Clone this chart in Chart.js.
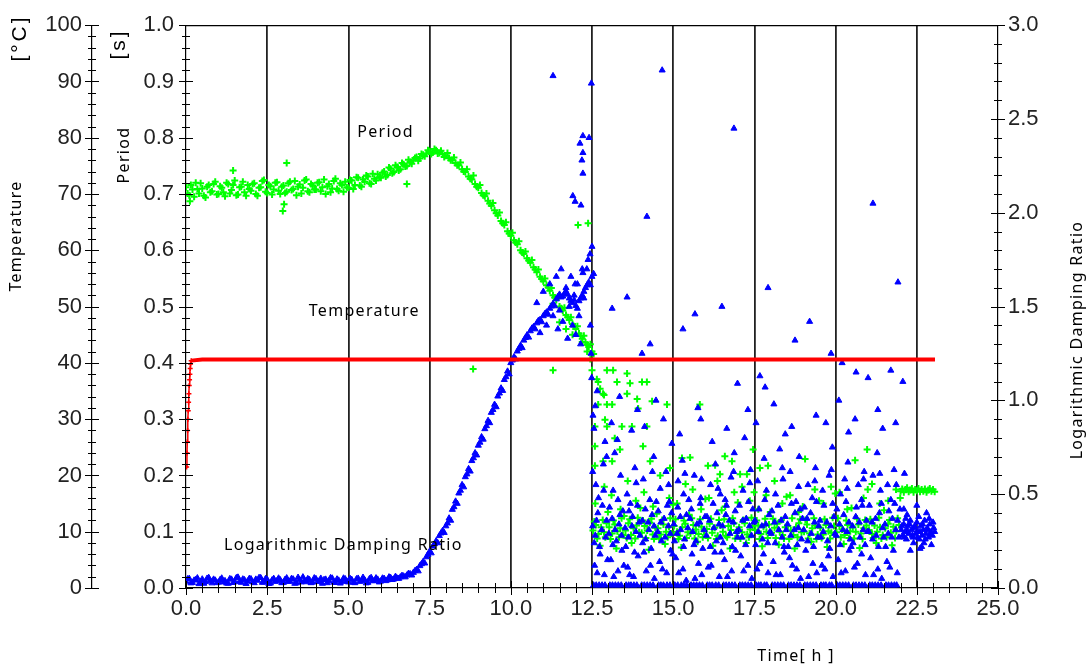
<!DOCTYPE html>
<html>
<head>
<meta charset="utf-8">
<script src="https://cdn.jsdelivr.net/npm/chart.js@4.4.1/dist/chart.umd.min.js"></script>
<style>
    html, body { margin: 0; padding: 0; background: #fff; }
    canvas { display: block; }
</style>
</head>
<body>
<canvas id="chart" width="1089" height="666"></canvas>
<script>
// ===============================
// DATA
// ===============================

// Temperature [°C] vs time [h]
const tempTime = [0.02, 0.03, 0.04, 0.05, 0.06, 0.07, 0.08, 0.09, 0.10, 0.11, 0.12, 0.13, 0.14, 0.16,
    0.5, 1, 2, 3, 4, 5, 6, 7, 8, 9, 10, 11, 12, 13, 14, 15, 16, 17, 18, 19, 20, 21, 22, 23, 23.06];
const tempValue = [21.5, 24, 26, 28, 30, 31.5, 33, 34.5, 36, 37, 38, 39, 39.8, 40.4,
    40.6, 40.6, 40.6, 40.6, 40.6, 40.6, 40.6, 40.6, 40.6, 40.6, 40.6, 40.6, 40.6, 40.6, 40.6,
    40.6, 40.6, 40.6, 40.6, 40.6, 40.6, 40.6, 40.6, 40.6, 40.6];

// Smooth part of the run (0 - 12.5 h), two readings per time step
const bandTime = [
    0.0, 0.1, 0.2, 0.3, 0.4, 0.5, 0.6, 0.7, 0.8, 0.9,
    1.0, 1.1, 1.2, 1.3, 1.4, 1.5, 1.6, 1.7, 1.8, 1.9,
    2.0, 2.1, 2.2, 2.3, 2.4, 2.5, 2.6, 2.7, 2.8, 2.9,
    3.0, 3.1, 3.2, 3.3, 3.4, 3.5, 3.6, 3.7, 3.8, 3.9,
    4.0, 4.1, 4.2, 4.3, 4.4, 4.5, 4.6, 4.7, 4.8, 4.9,
    5.0, 5.1, 5.2, 5.3, 5.4, 5.5, 5.6, 5.7, 5.8, 5.9,
    6.0, 6.1, 6.2, 6.3, 6.4, 6.5, 6.6, 6.7, 6.8, 6.9,
    7.0, 7.1, 7.2, 7.3, 7.4, 7.5, 7.6, 7.7, 7.8, 7.9,
    8.0, 8.1, 8.2, 8.3, 8.4, 8.5, 8.6, 8.7, 8.8, 8.9,
    9.0, 9.1, 9.2, 9.3, 9.4, 9.5, 9.6, 9.7, 9.8, 9.9,
    10.0, 10.1, 10.2, 10.3, 10.4, 10.5, 10.6, 10.7, 10.8, 10.9,
    11.0, 11.1, 11.2, 11.3, 11.4, 11.5, 11.6, 11.7, 11.8, 11.9,
    12.0, 12.1, 12.2, 12.3, 12.4, 12.5
];

// Period [s]
const periodBand = [
    0.712, 0.698, 0.708, 0.720, 0.701, 0.710, 0.694, 0.716, 0.705, 0.722,
    0.700, 0.711, 0.696, 0.718, 0.707, 0.724, 0.699, 0.713, 0.703, 0.716,
    0.706, 0.719, 0.697, 0.712, 0.725, 0.702, 0.714, 0.708, 0.721, 0.700,
    0.715, 0.704, 0.722, 0.709, 0.698, 0.717, 0.711, 0.726, 0.703, 0.715,
    0.708, 0.721, 0.712, 0.700, 0.718, 0.710, 0.727, 0.706, 0.716, 0.722,
    0.711, 0.724, 0.716, 0.729, 0.713, 0.722, 0.731, 0.718, 0.727, 0.735,
    0.729, 0.740, 0.734, 0.745, 0.739, 0.748, 0.744, 0.753, 0.750, 0.757,
    0.760, 0.766, 0.763, 0.770, 0.772, 0.776, 0.774, 0.778, 0.773, 0.771,
    0.768, 0.764, 0.760, 0.755, 0.751, 0.744, 0.739, 0.731, 0.726, 0.718,
    0.711, 0.702, 0.696, 0.688, 0.679, 0.671, 0.662, 0.652, 0.645, 0.634,
    0.626, 0.618, 0.611, 0.600, 0.594, 0.586, 0.578, 0.570, 0.561, 0.553,
    0.545, 0.538, 0.528, 0.520, 0.512, 0.500, 0.493, 0.485, 0.476, 0.469,
    0.460, 0.452, 0.443, 0.436, 0.428, 0.420
];
const periodBand2 = [
    0.701, 0.716, 0.695, 0.709, 0.719, 0.697, 0.713, 0.703, 0.718, 0.699,
    0.714, 0.703, 0.720, 0.701, 0.716, 0.698, 0.712, 0.722, 0.697, 0.709,
    0.718, 0.700, 0.711, 0.723, 0.704, 0.716, 0.699, 0.720, 0.706, 0.713,
    0.702, 0.719, 0.707, 0.723, 0.713, 0.701, 0.724, 0.705, 0.718, 0.708,
    0.720, 0.705, 0.726, 0.714, 0.703, 0.723, 0.709, 0.719, 0.704, 0.712,
    0.725, 0.709, 0.730, 0.715, 0.726, 0.733, 0.719, 0.736, 0.724, 0.730,
    0.738, 0.731, 0.747, 0.737, 0.751, 0.742, 0.755, 0.749, 0.761, 0.754,
    0.764, 0.759, 0.771, 0.767, 0.778, 0.771, 0.780, 0.772, 0.777, 0.766,
    0.773, 0.760, 0.765, 0.751, 0.756, 0.740, 0.744, 0.727, 0.733, 0.713,
    0.716, 0.698, 0.701, 0.683, 0.684, 0.666, 0.667, 0.648, 0.650, 0.630,
    0.631, 0.614, 0.616, 0.596, 0.598, 0.582, 0.583, 0.566, 0.566, 0.549,
    0.550, 0.534, 0.533, 0.516, 0.517, 0.497, 0.498, 0.481, 0.481, 0.465,
    0.465, 0.448, 0.448, 0.432, 0.433, 0.416
];

// Logarithmic damping ratio
const ldrBand = [
    0.035, 0.050, 0.028, 0.044, 0.022, 0.047, 0.033, 0.055, 0.026, 0.041,
    0.030, 0.052, 0.038, 0.024, 0.046, 0.034, 0.057, 0.029, 0.043, 0.036,
    0.048, 0.027, 0.040, 0.054, 0.031, 0.045, 0.025, 0.050, 0.037, 0.043,
    0.029, 0.053, 0.035, 0.047, 0.026, 0.042, 0.058, 0.032, 0.044, 0.030,
    0.049, 0.036, 0.024, 0.046, 0.038, 0.052, 0.028, 0.041, 0.034, 0.048,
    0.031, 0.045, 0.027, 0.051, 0.037, 0.043, 0.029, 0.055, 0.039, 0.046,
    0.036, 0.050, 0.042, 0.055, 0.047, 0.052, 0.058, 0.063, 0.068, 0.075,
    0.082, 0.098, 0.118, 0.140, 0.165, 0.195, 0.222, 0.250, 0.278, 0.305,
    0.330, 0.372, 0.418, 0.462, 0.505, 0.550, 0.592, 0.635, 0.678, 0.720,
    0.760, 0.805, 0.848, 0.892, 0.935, 0.978, 1.022, 1.065, 1.110, 1.155,
    1.200, 1.232, 1.262, 1.292, 1.320, 1.348, 1.370, 1.392, 1.412, 1.430,
    1.450, 1.470, 1.490, 1.515, 1.540, 1.565, 1.555, 1.580, 1.545, 1.520,
    1.505, 1.530, 1.560, 1.600, 1.630, 1.660
];
const ldrBand2 = [
    0.048, 0.026, 0.041, 0.053, 0.033, 0.024, 0.051, 0.038, 0.046, 0.027,
    0.044, 0.031, 0.025, 0.049, 0.028, 0.054, 0.035, 0.047, 0.023, 0.050,
    0.032, 0.046, 0.055, 0.029, 0.049, 0.023, 0.042, 0.034, 0.052, 0.027,
    0.045, 0.034, 0.050, 0.024, 0.056, 0.031, 0.040, 0.049, 0.027, 0.053,
    0.033, 0.051, 0.044, 0.027, 0.054, 0.030, 0.047, 0.025, 0.052, 0.036,
    0.050, 0.029, 0.048, 0.034, 0.056, 0.026, 0.049, 0.037, 0.053, 0.031,
    0.052, 0.038, 0.058, 0.044, 0.061, 0.050, 0.066, 0.058, 0.077, 0.068,
    0.092, 0.090, 0.128, 0.132, 0.178, 0.186, 0.235, 0.240, 0.292, 0.295,
    0.345, 0.360, 0.432, 0.450, 0.520, 0.538, 0.607, 0.622, 0.693, 0.708,
    0.776, 0.792, 0.864, 0.880, 0.950, 0.965, 1.038, 1.052, 1.125, 1.140,
    1.214, 1.220, 1.276, 1.280, 1.334, 1.336, 1.384, 1.380, 1.425, 1.418,
    1.462, 1.458, 1.502, 1.503, 1.552, 1.550, 1.570, 1.565, 1.532, 1.535,
    1.490, 1.545, 1.545, 1.615, 1.615, 1.675
];

// Scattered period readings [time, period]
const periodScatter = [
    [0.12, 0.687], [1.45, 0.742], [2.98, 0.670], [3.02, 0.682], [3.1, 0.755], [6.8, 0.718],
    [8.84, 0.389], [11.3, 0.387], [12.07, 0.645], [12.38, 0.648],
    [11.3, 0.505], [11.5, 0.472], [11.7, 0.46], [11.9, 0.45], [12.2, 0.437], [12.35, 0.42],
    [12.45, 0.407], [12.5, 0.387], [12.65, 0.371], [12.75, 0.354], [12.87, 0.343],
    [12.96, 0.387], [13.15, 0.387], [13.58, 0.381], [12.69, 0.366], [13.27, 0.366], [13.67, 0.364],
    [14.04, 0.366], [14.19, 0.366], [12.84, 0.345], [13.58, 0.345], [13.89, 0.336], [14.35, 0.332],
    [14.81, 0.326], [12.69, 0.326], [12.96, 0.326], [13.12, 0.326], [13.92, 0.319], [12.59, 0.287],
    [12.96, 0.287], [13.42, 0.287], [13.73, 0.287], [14.19, 0.287], [12.9, 0.299], [12.59, 0.252],
    [13.2, 0.266], [13.36, 0.246], [14.07, 0.252], [14.29, 0.225], [12.84, 0.225], [13.12, 0.225],
    [12.59, 0.217], [14.9, 0.213], [15.27, 0.231], [15.52, 0.232], [15.82, 0.326], [16.07, 0.217],
    [16.29, 0.218], [16.59, 0.234], [16.81, 0.225], [16.44, 0.202], [17.46, 0.246], [17.92, 0.217],
    [17.67, 0.213], [17.27, 0.202], [17.06, 0.202],
    [12.53, 0.102], [12.62, 0.112], [12.7, 0.096], [12.78, 0.108], [12.87, 0.099], [12.95, 0.115], [12.6, 0.15], [12.88, 0.18], [12.75, 0.075],
    [13.03, 0.108], [13.12, 0.097], [13.2, 0.113], [13.28, 0.101], [13.37, 0.106], [13.45, 0.094], [13.1, 0.165], [13.38, 0.14], [13.25, 0.07],
    [13.53, 0.102], [13.62, 0.115], [13.7, 0.094], [13.78, 0.106], [13.87, 0.111], [13.95, 0.099], [13.6, 0.19], [13.85, 0.155], [13.72, 0.08],
    [14.03, 0.098], [14.12, 0.11], [14.2, 0.102], [14.28, 0.116], [14.37, 0.095], [14.45, 0.107], [14.1, 0.17], [14.38, 0.145], [14.25, 0.068],
    [14.53, 0.106], [14.62, 0.095], [14.7, 0.113], [14.78, 0.1], [14.87, 0.109], [14.95, 0.097], [14.6, 0.2], [14.88, 0.16], [14.75, 0.078],
    [15.03, 0.11], [15.12, 0.1], [15.2, 0.093], [15.28, 0.108], [15.37, 0.114], [15.45, 0.099], [15.12, 0.15], [15.38, 0.185], [15.25, 0.072],
    [15.53, 0.097], [15.62, 0.112], [15.7, 0.104], [15.78, 0.096], [15.87, 0.109], [15.95, 0.101], [15.6, 0.175], [15.86, 0.14], [15.75, 0.082],
    [16.03, 0.105], [16.12, 0.114], [16.2, 0.098], [16.28, 0.107], [16.37, 0.093], [16.45, 0.111], [16.1, 0.16], [16.36, 0.19], [16.22, 0.075],
    [16.53, 0.1], [16.62, 0.093], [16.7, 0.11], [16.78, 0.103], [16.87, 0.115], [16.95, 0.098], [16.6, 0.145], [16.88, 0.17], [16.75, 0.07],
    [17.03, 0.108], [17.12, 0.099], [17.2, 0.115], [17.28, 0.095], [17.37, 0.104], [17.45, 0.11], [17.12, 0.18], [17.36, 0.155], [17.25, 0.08],
    [17.53, 0.103], [17.62, 0.111], [17.7, 0.096], [17.78, 0.109], [17.87, 0.1], [17.95, 0.113], [17.62, 0.14], [17.86, 0.165], [17.74, 0.074],
    [18.03, 0.098], [18.12, 0.107], [18.2, 0.114], [18.28, 0.1], [18.37, 0.094], [18.45, 0.108], [18.12, 0.19], [18.36, 0.15], [18.25, 0.077],
    [18.53, 0.11], [18.62, 0.102], [18.7, 0.094], [18.78, 0.108], [18.87, 0.115], [18.95, 0.099], [18.6, 0.165], [18.86, 0.135], [18.74, 0.07],
    [19.03, 0.1], [19.12, 0.113], [19.2, 0.097], [19.28, 0.106], [19.37, 0.111], [19.45, 0.095], [19.06, 0.229], [19.36, 0.175], [19.25, 0.082],
    [19.53, 0.107], [19.62, 0.095], [19.7, 0.112], [19.78, 0.101], [19.87, 0.098], [19.95, 0.11], [19.62, 0.15], [19.86, 0.18], [19.74, 0.073],
    [20.03, 0.099], [20.12, 0.11], [20.2, 0.104], [20.28, 0.094], [20.37, 0.112], [20.45, 0.101], [20.12, 0.17], [20.36, 0.14], [20.25, 0.078],
    [20.53, 0.108], [20.62, 0.1], [20.7, 0.113], [20.78, 0.097], [20.87, 0.106], [20.95, 0.111], [20.6, 0.227], [20.97, 0.246], [20.86, 0.16], [20.74, 0.071],
    [21.03, 0.103], [21.12, 0.096], [21.2, 0.111], [21.28, 0.1], [21.37, 0.108], [21.45, 0.094], [21.12, 0.185], [21.36, 0.15], [21.25, 0.08],
    [21.53, 0.106], [21.62, 0.114], [21.7, 0.098], [21.78, 0.109], [21.87, 0.101], [21.95, 0.112], [21.62, 0.155], [21.86, 0.175], [21.74, 0.076],
    [12.57, 0.118], [12.66, 0.088], [12.83, 0.121], [12.91, 0.09], [12.99, 0.135],
    [13.07, 0.087], [13.16, 0.12], [13.33, 0.09], [13.41, 0.124], [13.49, 0.128],
    [13.57, 0.089], [13.66, 0.122], [13.83, 0.088], [13.91, 0.125], [13.99, 0.142],
    [14.07, 0.12], [14.16, 0.089], [14.33, 0.123], [14.41, 0.087], [14.49, 0.132],
    [14.57, 0.088], [14.66, 0.121], [14.83, 0.09], [14.91, 0.124], [14.99, 0.148],
    [15.07, 0.122], [15.16, 0.087], [15.33, 0.12], [15.41, 0.089], [15.49, 0.13],
    [15.57, 0.124], [15.66, 0.088], [15.83, 0.122], [15.91, 0.09], [15.99, 0.158],
    [16.07, 0.089], [16.16, 0.123], [16.33, 0.087], [16.41, 0.121], [16.49, 0.138],
    [16.57, 0.122], [16.66, 0.09], [16.83, 0.124], [16.91, 0.088], [16.99, 0.152],
    [17.07, 0.088], [17.16, 0.121], [17.33, 0.09], [17.41, 0.125], [17.49, 0.17],
    [17.57, 0.12], [17.66, 0.087], [17.83, 0.123], [17.91, 0.089], [17.99, 0.135],
    [18.07, 0.123], [18.16, 0.089], [18.33, 0.121], [18.41, 0.088], [18.49, 0.162],
    [18.57, 0.087], [18.66, 0.124], [18.83, 0.09], [18.91, 0.122], [18.99, 0.145],
    [19.07, 0.121], [19.16, 0.088], [19.33, 0.124], [19.41, 0.087], [19.49, 0.155],
    [19.57, 0.089], [19.66, 0.122], [19.83, 0.088], [19.91, 0.125], [19.99, 0.168],
    [20.07, 0.124], [20.16, 0.09], [20.33, 0.12], [20.41, 0.089], [20.49, 0.142],
    [20.57, 0.088], [20.66, 0.123], [20.83, 0.087], [20.91, 0.121], [20.99, 0.175],
    [21.07, 0.122], [21.16, 0.089], [21.33, 0.125], [21.41, 0.088], [21.49, 0.138],
    [21.57, 0.09], [21.66, 0.121], [21.83, 0.089], [21.91, 0.124], [21.99, 0.16],
    [22.0, 0.172], [22.05, 0.176], [22.1, 0.17], [22.15, 0.175], [22.2, 0.178], [22.25, 0.171], [22.3, 0.174], [22.35, 0.177],
    [22.4, 0.17], [22.45, 0.175], [22.5, 0.173], [22.55, 0.177], [22.6, 0.171], [22.65, 0.175], [22.7, 0.172], [22.75, 0.176],
    [22.8, 0.17], [22.85, 0.174], [22.9, 0.177], [22.95, 0.172], [23.0, 0.175], [23.05, 0.171]
];

// Scattered damping ratio readings [time, ratio]
const ldrScatter = [
    [10.8, 1.52], [10.9, 1.36], [11.0, 1.58], [11.1, 1.40], [11.2, 1.62], [11.3, 1.45], [11.3, 2.73], [11.4, 1.66],
    [11.45, 1.38], [11.5, 1.48], [11.55, 1.70], [11.6, 1.42], [11.7, 1.60], [11.75, 1.33], [11.8, 1.50], [11.85, 1.66],
    [11.9, 1.40], [11.95, 1.56], [12.0, 1.35], [12.05, 1.62], [12.1, 1.45], [12.15, 1.30], [12.2, 1.70], [12.25, 1.58],
    [12.22, 2.41], [12.41, 2.40], [12.13, 2.37], [12.22, 2.32], [12.19, 2.28], [12.22, 2.21], [11.91, 2.09], [11.98, 2.06],
    [12.16, 2.04], [12.5, 1.82], [12.44, 1.78], [12.38, 1.75], [12.34, 1.70], [12.22, 1.68], [11.98, 1.62], [12.48, 2.69],
    [12.45, 1.40], [12.47, 1.25], [12.49, 1.12],
    [12.55, 0.015], [12.72, 0.015], [12.9, 0.015], [12.52, 0.33], [12.6, 0.28], [12.68, 0.4], [12.8, 0.31], [12.95, 0.36],
    [12.58, 0.12], [12.75, 0.18], [12.88, 0.07], [12.62, 0.55], [12.85, 0.66], [12.7, 0.48], [12.53, 0.92], [12.66, 1.05],
    [12.9, 0.78], [12.56, 0.85], [12.6, 0.97], [12.95, 0.7], [12.52, 0.62],
    [13.05, 0.015], [13.22, 0.015], [13.4, 0.015], [13.02, 0.29], [13.12, 0.37], [13.25, 0.25], [13.33, 0.34], [13.45, 0.41],
    [13.08, 0.15], [13.3, 0.09], [13.42, 0.2], [13.15, 0.52], [13.38, 0.6], [13.2, 0.72], [13.1, 0.88], [13.28, 0.79],
    [13.12, 1.49], [13.35, 1.02],
    [13.55, 0.015], [13.7, 0.015], [13.88, 0.015], [13.52, 0.32], [13.62, 0.27], [13.75, 0.38], [13.85, 0.3], [13.95, 0.35],
    [13.6, 0.11], [13.78, 0.06], [13.92, 0.17], [13.58, 0.5], [13.82, 0.64], [13.68, 0.45], [13.58, 1.55], [13.72, 0.84], [13.9, 0.95],
    [14.03, 0.015], [14.2, 0.015], [14.38, 0.015], [14.05, 0.36], [14.15, 0.26], [14.25, 0.31], [14.35, 0.39], [14.45, 0.28],
    [14.1, 0.19], [14.3, 0.12], [14.42, 0.05], [14.08, 0.58], [14.28, 0.47], [14.4, 0.7], [14.04, 1.25], [14.19, 1.98],
    [14.29, 1.3], [14.47, 1.0], [14.12, 0.86],
    [14.55, 0.015], [14.7, 0.015], [14.9, 0.015], [14.52, 0.3], [14.62, 0.35], [14.75, 0.27], [14.85, 0.33], [14.95, 0.4],
    [14.58, 0.14], [14.8, 0.08], [14.92, 0.2], [14.6, 0.53], [14.78, 0.62], [14.88, 0.46], [14.66, 2.76], [14.7, 0.9], [14.96, 0.77],
    [15.05, 0.015], [15.25, 0.015], [15.42, 0.015], [15.02, 0.34], [15.12, 0.29], [15.22, 0.38], [15.35, 0.26], [15.45, 0.32],
    [15.08, 0.16], [15.3, 0.1], [15.4, 0.04], [15.15, 0.57], [15.32, 0.5], [15.28, 0.68], [15.3, 1.38], [15.2, 0.82],
    [15.55, 0.015], [15.72, 0.015], [15.9, 0.015], [15.52, 0.37], [15.6, 0.3], [15.7, 0.25], [15.82, 0.35], [15.95, 0.31],
    [15.58, 0.18], [15.78, 0.13], [15.88, 0.07], [15.65, 0.6], [15.85, 0.48], [15.76, 0.96], [15.67, 1.46], [15.85, 0.9],
    [16.05, 0.015], [16.2, 0.015], [16.4, 0.015], [16.02, 0.28], [16.12, 0.36], [16.25, 0.32], [16.35, 0.4], [16.45, 0.27],
    [16.08, 0.11], [16.28, 0.19], [16.42, 0.06], [16.15, 0.55], [16.3, 0.66], [16.45, 0.5], [16.2, 0.78], [16.5, 1.5],
    [16.55, 0.015], [16.72, 0.015], [16.9, 0.015], [16.52, 0.33], [16.62, 0.39], [16.75, 0.29], [16.85, 0.35], [16.95, 0.3],
    [16.58, 0.15], [16.8, 0.09], [16.92, 0.2], [16.6, 0.47], [16.78, 0.59], [16.88, 0.72], [16.87, 2.45], [16.98, 1.09], [16.65, 0.85],
    [17.05, 0.015], [17.22, 0.015], [17.4, 0.015], [17.02, 0.31], [17.12, 0.27], [17.25, 0.37], [17.35, 0.33], [17.45, 0.42],
    [17.08, 0.17], [17.3, 0.12], [17.42, 0.05], [17.15, 0.52], [17.38, 0.63], [17.2, 0.8], [17.3, 0.95],
    [17.55, 0.015], [17.7, 0.015], [17.88, 0.015], [17.52, 0.36], [17.62, 0.3], [17.75, 0.26], [17.85, 0.34], [17.95, 0.39],
    [17.58, 0.1], [17.78, 0.18], [17.92, 0.08], [17.67, 1.13], [17.83, 1.07], [17.6, 0.57], [17.8, 0.69], [17.92, 1.6], [17.55, 0.88],
    [18.05, 0.015], [18.22, 0.015], [18.4, 0.015], [18.02, 0.29], [18.12, 0.35], [18.25, 0.31], [18.35, 0.27], [18.45, 0.38],
    [18.08, 0.14], [18.3, 0.07], [18.42, 0.19], [18.15, 0.5], [18.38, 0.58], [18.28, 0.74], [18.1, 0.98], [18.45, 0.82],
    [18.55, 0.015], [18.72, 0.015], [18.9, 0.015], [18.52, 0.34], [18.62, 0.28], [18.75, 0.4], [18.85, 0.32], [18.95, 0.26],
    [18.58, 0.16], [18.8, 0.1], [18.92, 0.05], [18.6, 0.62], [18.78, 0.46], [18.88, 0.7], [18.75, 1.32], [18.65, 0.86],
    [19.05, 0.015], [19.22, 0.015], [19.4, 0.015], [19.02, 0.31], [19.12, 0.37], [19.25, 0.29], [19.35, 0.35], [19.45, 0.27],
    [19.08, 0.2], [19.3, 0.13], [19.42, 0.08], [19.15, 0.55], [19.38, 0.64], [19.28, 0.48], [19.2, 1.42], [19.4, 0.92],
    [19.55, 0.015], [19.7, 0.015], [19.88, 0.015], [19.52, 0.36], [19.62, 0.3], [19.75, 0.25], [19.85, 0.33], [19.95, 0.38],
    [19.58, 0.12], [19.78, 0.17], [19.92, 0.06], [19.6, 0.52], [19.8, 0.6], [19.9, 0.75], [19.86, 1.25], [19.7, 0.88],
    [20.05, 0.015], [20.22, 0.015], [20.4, 0.015], [20.02, 0.28], [20.12, 0.34], [20.25, 0.39], [20.35, 0.3], [20.45, 0.26],
    [20.08, 0.15], [20.3, 0.09], [20.42, 0.2], [20.15, 0.5], [20.38, 0.67], [20.28, 0.58], [20.2, 1.2], [20.1, 1.0], [20.4, 0.83],
    [20.55, 0.015], [20.72, 0.015], [20.9, 0.015], [20.52, 0.33], [20.62, 0.38], [20.75, 0.27], [20.85, 0.31], [20.95, 0.36],
    [20.58, 0.11], [20.8, 0.18], [20.92, 0.07], [20.63, 1.15], [20.7, 0.55], [20.88, 0.62], [20.8, 0.47], [21.0, 1.12], [20.6, 0.9],
    [21.05, 0.015], [21.22, 0.015], [21.4, 0.015], [21.02, 0.3], [21.12, 0.35], [21.25, 0.28], [21.35, 0.4], [21.45, 0.32],
    [21.08, 0.16], [21.3, 0.1], [21.42, 0.05], [21.15, 0.6], [21.38, 0.52], [21.28, 0.72], [21.15, 2.05], [21.3, 0.95], [21.45, 0.85],
    [21.55, 0.015], [21.72, 0.015], [21.88, 0.015], [21.52, 0.34], [21.62, 0.29], [21.75, 0.37], [21.85, 0.31], [21.95, 0.27],
    [21.58, 0.14], [21.78, 0.2], [21.9, 0.08], [21.6, 0.55], [21.8, 0.63], [21.7, 0.47], [21.7, 1.16], [21.92, 1.63], [21.85, 0.88],
    [12.57, 0.24], [12.64, 0.36], [12.73, 0.22], [12.82, 0.44], [12.92, 0.27], [12.98, 0.15], [12.66, 0.08], [12.86, 0.52], [12.63, 0.015], [12.81, 0.015],
    [13.04, 0.43], [13.14, 0.23], [13.21, 0.31], [13.3, 0.47], [13.41, 0.28], [13.48, 0.12], [13.17, 0.06], [13.36, 0.39], [13.13, 0.015], [13.31, 0.015],
    [13.54, 0.22], [13.64, 0.41], [13.73, 0.33], [13.81, 0.19], [13.9, 0.44], [13.98, 0.28], [13.66, 0.07], [13.86, 0.56], [13.63, 0.015], [13.79, 0.015],
    [14.06, 0.24], [14.14, 0.42], [14.23, 0.35], [14.32, 0.21], [14.41, 0.33], [14.48, 0.46], [14.17, 0.09], [14.36, 0.62], [14.11, 0.015], [14.29, 0.015],
    [14.54, 0.41], [14.64, 0.25], [14.72, 0.37], [14.82, 0.44], [14.91, 0.29], [14.98, 0.18], [14.67, 0.1], [14.86, 0.55], [14.62, 0.015], [14.81, 0.015],
    [15.04, 0.25], [15.14, 0.43], [15.23, 0.31], [15.32, 0.22], [15.41, 0.39], [15.48, 0.47], [15.17, 0.08], [15.36, 0.61], [15.14, 0.015], [15.33, 0.015],
    [15.56, 0.42], [15.64, 0.23], [15.73, 0.34], [15.83, 0.45], [15.91, 0.21], [15.98, 0.38], [15.67, 0.05], [15.87, 0.58], [15.63, 0.015], [15.81, 0.015],
    [16.04, 0.38], [16.14, 0.22], [16.23, 0.45], [16.33, 0.25], [16.41, 0.34], [16.48, 0.19], [16.17, 0.12], [16.38, 0.53], [16.12, 0.015], [16.31, 0.015],
    [16.54, 0.24], [16.64, 0.44], [16.73, 0.36], [16.82, 0.22], [16.91, 0.41], [16.98, 0.27], [16.67, 0.06], [16.86, 0.62], [16.63, 0.015], [16.81, 0.015],
    [17.04, 0.44], [17.14, 0.36], [17.23, 0.23], [17.32, 0.46], [17.41, 0.28], [17.48, 0.35], [17.17, 0.09], [17.36, 0.56], [17.13, 0.015], [17.31, 0.015],
    [17.54, 0.23], [17.64, 0.42], [17.73, 0.33], [17.82, 0.47], [17.91, 0.24], [17.98, 0.3], [17.67, 0.13], [17.87, 0.52], [17.63, 0.015], [17.81, 0.015],
    [18.04, 0.41], [18.14, 0.24], [18.23, 0.44], [18.32, 0.36], [18.41, 0.22], [18.48, 0.31], [18.17, 0.07], [18.36, 0.64], [18.13, 0.015], [18.31, 0.015],
    [18.54, 0.22], [18.64, 0.45], [18.73, 0.31], [18.82, 0.23], [18.91, 0.42], [18.98, 0.37], [18.67, 0.12], [18.86, 0.54], [18.63, 0.015], [18.81, 0.015],
    [19.04, 0.43], [19.14, 0.25], [19.23, 0.4], [19.32, 0.22], [19.41, 0.46], [19.48, 0.33], [19.17, 0.06], [19.36, 0.57], [19.13, 0.015], [19.31, 0.015],
    [19.54, 0.27], [19.64, 0.44], [19.73, 0.35], [19.82, 0.21], [19.91, 0.45], [19.98, 0.29], [19.67, 0.1], [19.87, 0.63], [19.63, 0.015], [19.81, 0.015],
    [20.04, 0.42], [20.14, 0.23], [20.23, 0.31], [20.32, 0.46], [20.41, 0.35], [20.48, 0.22], [20.17, 0.08], [20.36, 0.53], [20.13, 0.015], [20.31, 0.015],
    [20.54, 0.24], [20.64, 0.43], [20.73, 0.35], [20.82, 0.44], [20.91, 0.23], [20.98, 0.3], [20.67, 0.13], [20.86, 0.58], [20.63, 0.015], [20.81, 0.015],
    [21.04, 0.44], [21.14, 0.26], [21.23, 0.37], [21.32, 0.22], [21.41, 0.45], [21.48, 0.27], [21.17, 0.07], [21.36, 0.61], [21.13, 0.015], [21.31, 0.015],
    [21.54, 0.22], [21.64, 0.41], [21.73, 0.27], [21.82, 0.45], [21.91, 0.36], [21.98, 0.42], [21.67, 0.11], [21.87, 0.55], [21.63, 0.015], [21.81, 0.015],
    [22.02, 0.31], [22.06, 0.28], [22.1, 0.34], [22.14, 0.3], [22.18, 0.26], [22.22, 0.33], [22.26, 0.29], [22.3, 0.36],
    [22.34, 0.31], [22.38, 0.27], [22.42, 0.32], [22.46, 0.29], [22.5, 0.35], [22.54, 0.3], [22.58, 0.26], [22.62, 0.33],
    [22.66, 0.28], [22.7, 0.31], [22.74, 0.36], [22.78, 0.29], [22.82, 0.32], [22.86, 0.27], [22.9, 0.34], [22.94, 0.3],
    [22.98, 0.28], [23.02, 0.32], [23.05, 0.3], [22.1, 0.42], [22.3, 0.2], [22.5, 0.44], [22.65, 0.22], [22.8, 0.4],
    [22.95, 0.23], [22.2, 0.39], [22.07, 1.1], [22.6, 0.21], [22.12, 0.61],
    [22.04, 0.33], [22.12, 0.27], [22.2, 0.31], [22.28, 0.34], [22.36, 0.28], [22.44, 0.33], [22.52, 0.27], [22.6, 0.3],
    [22.68, 0.34], [22.76, 0.26], [22.84, 0.31], [22.92, 0.29], [23.0, 0.35], [22.16, 0.37], [22.56, 0.38], [22.88, 0.37],
    [22.4, 0.24], [22.72, 0.24]
];

// ===============================
// HELPERS
// ===============================
const TICK_FONT = { family: "'Liberation Sans', Arial, sans-serif", size: 22 };
const TEXT_FONT = "16px 'Noto Sans', sans-serif";
const TEXT_SPACING = "1.3px";

function isMult(v, step) {
    return Math.abs(v / step - Math.round(v / step)) < 1e-6;
}

const periodPoints = bandTime.map((t, i) => ({ x: t, y: periodBand[i] }))
    .concat(bandTime.map((t, i) => ({ x: t + 0.05, y: periodBand2[i] })))
    .concat(periodScatter.map(p => ({ x: p[0], y: p[1] })));
const ldrPoints = bandTime.map((t, i) => ({ x: t, y: ldrBand[i] }))
    .concat(bandTime.map((t, i) => ({ x: t + 0.05, y: ldrBand2[i] })))
    .concat(ldrScatter.map(p => ({ x: p[0], y: p[1] })));
const tempPoints = tempTime.map((t, i) => ({ x: t, y: tempValue[i] }));

// ===============================
// TICK MARKS + TEXT (crossing ticks like the original plot)
// ===============================
const axisDecor = {
    id: "axisDecor",
    afterDraw(chart) {
        const ctx = chart.ctx;
        const s = chart.scales;
        const area = chart.chartArea;

        ctx.save();
        ctx.strokeStyle = "#000";
        ctx.lineWidth = 1;

        // y axes
        [[s.yT, s.yT.right], [s.yP, s.yP.right], [s.yL, s.yL.left]].forEach(([scale, xPos]) => {
            scale.ticks.forEach(tick => {
                const y = Math.round(scale.getPixelForValue(tick.value)) + 0.5;
                const len = tick.label !== "" ? 7 : 4;
                ctx.beginPath();
                ctx.moveTo(xPos - len, y);
                ctx.lineTo(xPos + len, y);
                ctx.stroke();
            });
        });

        // x axis
        s.x.ticks.forEach(tick => {
            const x = Math.round(s.x.getPixelForValue(tick.value)) + 0.5;
            const len = tick.label !== "" ? 7 : 5;
            ctx.beginPath();
            ctx.moveTo(x, s.x.top - len);
            ctx.lineTo(x, s.x.top + len);
            ctx.stroke();
        });

        // top frame line
        ctx.lineWidth = 1.2;
        ctx.beginPath();
        ctx.moveTo(area.left, area.top + 0.5);
        ctx.lineTo(area.right, area.top + 0.5);
        ctx.stroke();

        // text
        ctx.fillStyle = "#000";
        ctx.font = TEXT_FONT;
        ctx.letterSpacing = TEXT_SPACING;
        ctx.textBaseline = "middle";

        ctx.textAlign = "left";
        ctx.fillText("Period", s.x.getPixelForValue(5.27), s.yP.getPixelForValue(0.81));
        ctx.fillText("Temperature", s.x.getPixelForValue(3.78), s.yT.getPixelForValue(49.1));
        ctx.fillText("Logarithmic Damping Ratio", s.x.getPixelForValue(1.17), s.yL.getPixelForValue(0.227));

        ctx.textAlign = "center";
        ctx.fillText("Time[ h ]", 796, 656);

        const vText = (txt, x, y, font, spacing) => {
            ctx.save();
            ctx.translate(x, y);
            ctx.rotate(-Math.PI / 2);
            ctx.font = font;
            ctx.letterSpacing = spacing;
            ctx.fillText(txt, 0, 0);
            ctx.restore();
        };
        vText("Temperature", 16, 236, TEXT_FONT, TEXT_SPACING);
        vText("Period", 124, 155, TEXT_FONT, TEXT_SPACING);
        vText("Logarithmic Damping Ratio", 1077, 340, TEXT_FONT, TEXT_SPACING);
        vText("[°C]", 20, 38, "21px 'Liberation Sans', Arial, sans-serif", "3px");
        vText("[s]", 119, 44, "21px 'Liberation Sans', Arial, sans-serif", "3px");

        ctx.restore();
    }
};

// ===============================
// CHART
// ===============================
function yAxis(position, weight, min, max, step, major, width, padding) {
    return {
        type: "linear",
        position: position,
        weight: weight,
        min: min,
        max: max,
        ticks: {
            stepSize: step,
            autoSkip: false,
            padding: padding,
            color: "#222",
            font: TICK_FONT,
            callback: v => isMult(v, major) ? (major >= 1 ? String(v) : v.toFixed(1)) : ""
        },
        grid: { drawOnChartArea: false, drawTicks: false },
        border: { color: "#000", width: 1.2 },
        afterFit: scale => { scale.width = width; }
    };
}

const ctx = document.getElementById("chart").getContext("2d");

new Chart(ctx, {
    type: "scatter",
    data: {
        datasets: [
            {
                label: "Temperature",
                data: tempPoints,
                yAxisID: "yT",
                showLine: true,
                borderColor: "#ff0000",
                borderWidth: 4,
                segment: { borderWidth: c => c.p0.parsed.x < 0.15 ? 1.5 : 4 },
                pointStyle: "cross",
                pointRadius: c => (c.raw && c.raw.x < 0.2) ? 2.5 : 0,
                pointBorderColor: "#ff0000",
                pointBorderWidth: 1.5,
                order: 0
            },
            {
                label: "Logarithmic Damping Ratio",
                data: ldrPoints,
                yAxisID: "yL",
                pointStyle: "triangle",
                pointRadius: 3.5,
                backgroundColor: "#0000ff",
                borderColor: "#0000ff",
                pointBorderWidth: 1,
                order: 1
            },
            {
                label: "Period",
                data: periodPoints,
                yAxisID: "yP",
                pointStyle: "cross",
                pointRadius: 3.5,
                borderColor: "#00ff00",
                backgroundColor: "#00ff00",
                pointBorderWidth: 2,
                order: 2
            }
        ]
    },
    options: {
        responsive: false,
        animation: false,
        layout: { padding: { top: 20, left: 0, right: 0, bottom: 0 } },
        plugins: {
            legend: { display: false },
            tooltip: { enabled: false }
        },
        scales: {
            x: {
                type: "linear",
                position: "bottom",
                min: 0,
                max: 25,
                ticks: {
                    stepSize: 0.5,
                    autoSkip: false,
                    maxRotation: 0,
                    padding: 8,
                    color: "#222",
                    font: TICK_FONT,
                    callback: v => isMult(v, 2.5) ? v.toFixed(1) : ""
                },
                grid: {
                    drawTicks: false,
                    lineWidth: 1.8,
                    color: c => (c.tick && isMult(c.tick.value, 2.5) && c.tick.value > 0 && c.tick.value < 25)
                        ? "#222" : "rgba(0,0,0,0)"
                },
                border: { color: "#000", width: 1.2 },
                afterFit: scale => { scale.height = 78; }
            },
            yT: yAxis("left", 2, 0, 100, 2, 10, 92, 10),
            yP: yAxis("left", 1, 0, 1, 0.02, 0.1, 94, 12),
            yL: yAxis("right", 1, 0, 3, 0.1, 0.5, 91, 10)
        }
    },
    plugins: [axisDecor]
});
</script>
</body>
</html>
